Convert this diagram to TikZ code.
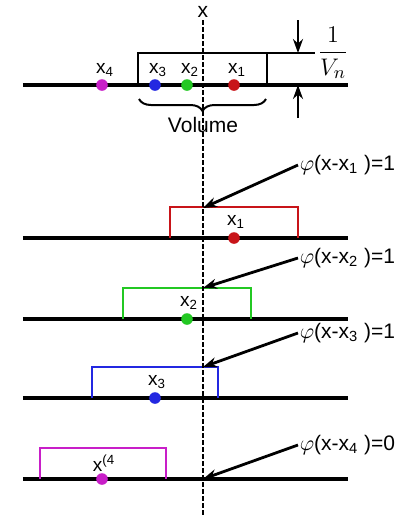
\documentclass[tikz,border=0pt]{standalone}
\usepackage{fontspec}
\setmainfont{Liberation Sans}
\usetikzlibrary{arrows.meta,decorations.pathreplacing}
\definecolor{dotred}{RGB}{200,20,25}
\definecolor{dotgreen}{RGB}{35,200,35}
\definecolor{dotblue}{RGB}{35,40,225}
\definecolor{dotmag}{RGB}{200,30,200}

\begin{document}
\begin{tikzpicture}[x=0.5pt,y=-0.5pt,line width=0.8pt,>=Stealth,
  base/.style={line width=1.6pt},
  box/.style={line width=1pt},
  dot/.style={circle,inner sep=0pt,minimum size=5.8pt},
  lab/.style={font=\fontsize{9.5}{11}\selectfont,inner sep=1pt},
  phi/.style={font=\fontsize{10.5}{12}\selectfont,anchor=west,inner sep=0.5pt},
  pt/.style={-{Stealth[length=7pt,width=5pt]},line width=1.4pt}]
\useasboundingbox (0,0) rectangle (404,516);
% baseline, box, dot and point label of one row: name, y, left, right, dot x, colour, label
\newcommand{\kernrow}[7]{
  \draw[base] (23,#2) -- (348,#2);
  \draw[box,#6] (#3,#2) -- (#3,{#2-31}) -- (#4,{#2-31}) -- (#4,#2);
  \node[dot,fill=#6] (d#1) at (#5,#2) {};
  \node[lab] (l#1) at ({#5+2},{#2-16}) {#7};}
% ---------- Dashed position x ----------
\node[lab,font=\fontsize{10.5}{12}\selectfont] (xtop) at (203,12) {x};
\coordinate (xbot) at (203,516);
% ---------- Volume ----------
\draw[base] (23,85) -- (348,85);
\draw[box,line width=1.2pt] (138,85) |- (315,53);
\draw[box,line width=1.2pt] (267,53) -- (267,85);
\foreach \n/\px/\c in {4/102/dotmag,3/155/dotblue,2/187/dotgreen,1/234/dotred}{
  \node[dot,fill=\c] (v\n) at (\px,85) {};
  \node[lab] at ({\px+3},70) {x\textsubscript{\n}};}
\draw[decorate,decoration={brace,mirror,amplitude=6pt},line width=1pt] (139,99) -- (266,99);
\node[lab,font=\fontsize{10.5}{12}\selectfont] (vol) at (203,125) {Volume};
\coordinate (vt) at (298,20);
\coordinate (vtop) at (298,53);
\coordinate (vb) at (298,118);
\coordinate (vbot) at (298,85);
\draw[pt] (vt) -- (vtop);
\draw[pt] (vb) -- (vbot);
\node (frac) at (333,53) {\fontsize{13}{15}\selectfont$\displaystyle\frac{1}{V_n}$};
% ---------- Rows ----------
\kernrow{1}{238}{170}{298}{234}{dotred}{x\textsubscript{1}}
\kernrow{2}{319}{123}{251}{187}{dotgreen}{x\textsubscript{2}}
\kernrow{3}{398}{92}{218}{155}{dotblue}{x\textsubscript{3}}
\kernrow{4}{479}{40}{166}{102}{dotmag}{x\textsuperscript{(4}}
\draw[dash pattern=on 2.2pt off 1.3pt,line width=0.9pt] (xtop) -- (xbot);
\node[phi] (p1) at (298,165) {$\varphi$(x-x\textsubscript{1} )=1};
\node[phi] (p2) at (298,258) {$\varphi$(x-x\textsubscript{2} )=1};
\node[phi] (p3) at (298,333) {$\varphi$(x-x\textsubscript{3} )=1};
\node[phi] (p4) at (298,445) {$\varphi$(x-x\textsubscript{4} )=0};
\coordinate (t1) at (203,208);
\coordinate (t2) at (203,288);
\coordinate (t3) at (203,367);
\coordinate (t4) at (203,479);
\foreach \n in {1,...,4}{\draw[pt] (p\n.west) -- (t\n);}
\end{tikzpicture}
\end{document}
